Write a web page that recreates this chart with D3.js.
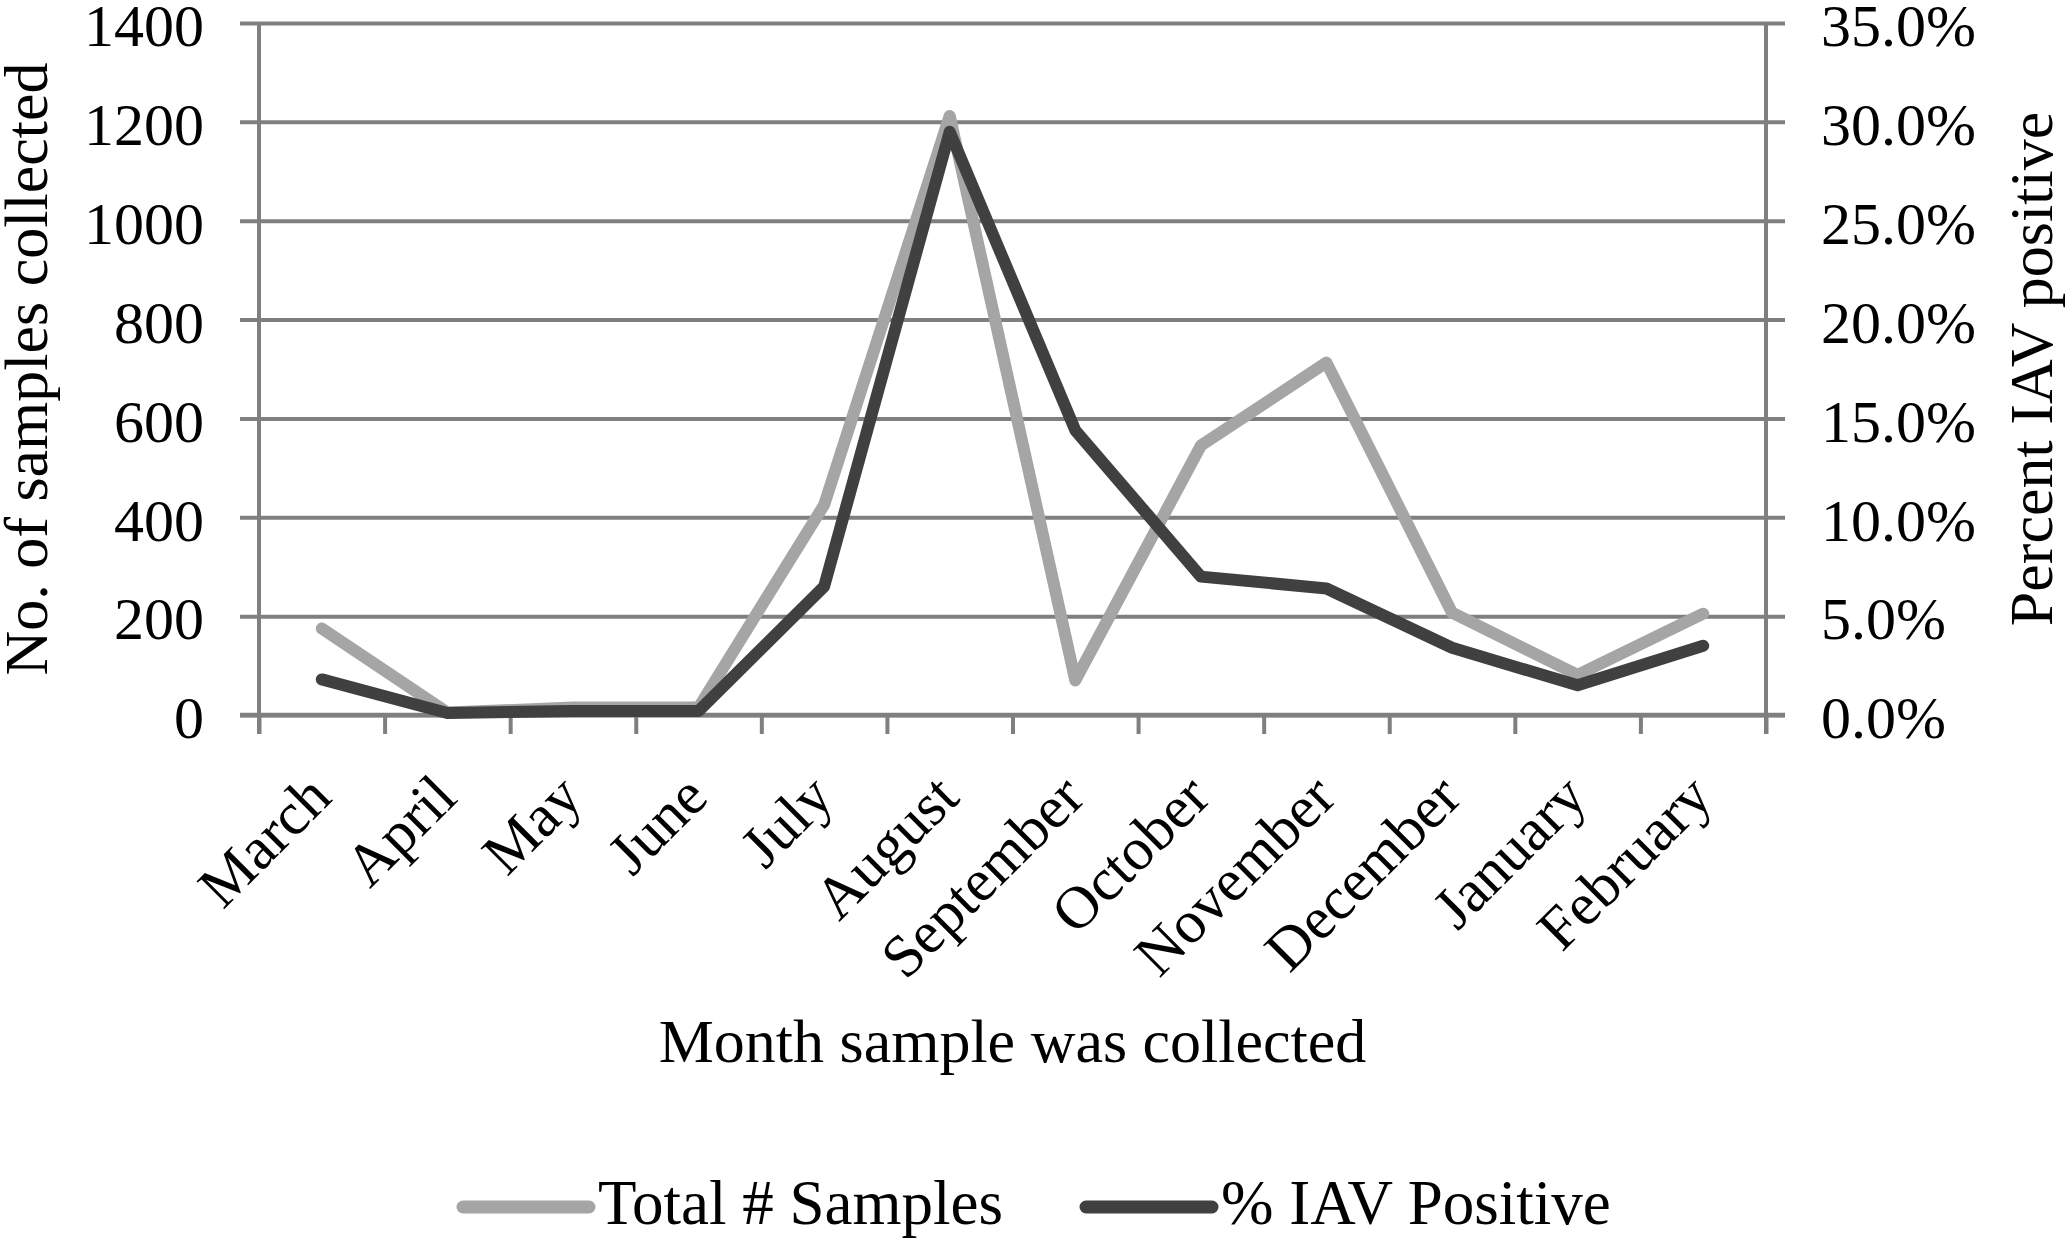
<!DOCTYPE html>
<html>
<head>
<meta charset="utf-8">
<script src="https://cdn.jsdelivr.net/npm/d3@7"></script>
<style>
  body { margin: 0; background: #fff; }
  text { font-family: "Liberation Serif", "Times New Roman", serif; fill: #000; }
</style>
</head>
<body>
<div id="chart"></div>
<script>

var months = ['March', 'April', 'May', 'June', 'July', 'August', 'September',
  'October', 'November', 'December', 'January', 'February'];

// Total # Samples (left axis)
var total_samples = [175, 5, 15, 15, 425, 1212, 70, 545, 713, 207, 81, 205];

// % IAV Positive (right axis, fraction)
var pct_positive = [0.018, 0.001, 0.002, 0.002, 0.065, 0.295, 0.144, 0.070, 0.064, 0.034, 0.015, 0.035];

var left_ticks  = [0, 200, 400, 600, 800, 1000, 1200, 1400];
var right_ticks = [0, 0.05, 0.10, 0.15, 0.20, 0.25, 0.30, 0.35];

var series_names = ['Total # Samples', '% IAV Positive'];


var chart_width  = 2070;
var chart_height = 1239;

var x_left   = 259;
var x_right  = 1766;
var y_top    = 23;
var y_bottom = 715;
var tick_len = 19;
var tick_font  = 60;
var title_font = 62;

var grid_color = '#7f7f7f';
var light      = '#a5a5a5';
var dark       = '#404040';
var serif      = '"Liberation Serif", "Times New Roman", serif';

var svg = d3.select('#chart')
  .append('svg')
  .attr('width', chart_width)
  .attr('height', chart_height);

var x_scale = d3.scaleBand()
  .domain(months)
  .range([x_left, x_right]);

// month boundaries for tick marks
var x_bounds = d3.scaleLinear()
  .domain([0, months.length])
  .range([x_left, x_right]);

var y_left = d3.scaleLinear()
  .domain([0, 1400])
  .range([y_bottom, y_top]);

var y_right = d3.scaleLinear()
  .domain([0, 0.35])
  .range([y_bottom, y_top]);

// gridlines, running through both tick sets
var grid = svg.append('g')
  .attr('class', 'grid')
  .attr('transform', 'translate(' + (x_left - tick_len) + ',0)')
  .call(d3.axisLeft(y_left)
    .tickValues(left_ticks)
    .tickSize(-(x_right - x_left + tick_len * 2))
    .tickFormat(''));
grid.select('.domain').remove();
grid.selectAll('line')
  .attr('stroke', grid_color)
  .attr('stroke-width', 4);

// left axis labels
var y_axis_l = svg.append('g')
  .attr('transform', 'translate(' + x_left + ',0)')
  .call(d3.axisLeft(y_left)
    .tickValues(left_ticks)
    .tickSize(0)
    .tickPadding(55)
    .tickFormat(d3.format('d')));
y_axis_l.select('.domain')
  .attr('stroke', grid_color)
  .attr('stroke-width', 4)
  .attr('d', 'M0,' + y_top + 'V' + (y_bottom + tick_len));
y_axis_l.selectAll('text')
  .attr('dy', '0.38em')
  .style('font-size', tick_font + 'px')
  .style('font-family', serif);

// right axis labels
var y_axis_r = svg.append('g')
  .attr('transform', 'translate(' + x_right + ',0)')
  .call(d3.axisRight(y_right)
    .tickValues(right_ticks)
    .tickSize(0)
    .tickPadding(55)
    .tickFormat(d3.format('.1%')));
y_axis_r.select('.domain')
  .attr('stroke', grid_color)
  .attr('stroke-width', 4)
  .attr('d', 'M0,' + y_top + 'V' + (y_bottom + tick_len));
y_axis_r.selectAll('text')
  .attr('dy', '0.38em')
  .style('font-size', tick_font + 'px')
  .style('font-family', serif);

// x tick marks between months
var x_ticks = svg.append('g')
  .attr('transform', 'translate(0,' + y_bottom + ')')
  .call(d3.axisBottom(x_bounds)
    .tickValues(d3.range(months.length + 1))
    .tickSize(tick_len)
    .tickFormat(''));
x_ticks.select('.domain')
  .attr('stroke', grid_color)
  .attr('stroke-width', 4.5)
  .attr('d', 'M' + (x_left - tick_len) + ',0H' + (x_right + tick_len));
x_ticks.selectAll('line')
  .attr('stroke', grid_color)
  .attr('stroke-width', 4);

// rotated month labels
var x_axis = svg.append('g')
  .attr('transform', 'translate(0,' + y_bottom + ')')
  .call(d3.axisBottom(x_scale).tickSize(0));
x_axis.select('.domain').remove();
x_axis.selectAll('text')
  .attr('x', -3)
  .attr('y', 70)
  .attr('dy', '0.35em')
  .attr('text-anchor', 'end')
  .attr('transform', 'rotate(-45,-3,70)')
  .style('font-size', tick_font + 'px')
  .style('font-family', serif);

// lines
var line_total = d3.line()
  .x(function(d, i) { return x_scale(months[i]) + x_scale.bandwidth() / 2; })
  .y(function(d) { return y_left(d); });

var line_pct = d3.line()
  .x(function(d, i) { return x_scale(months[i]) + x_scale.bandwidth() / 2; })
  .y(function(d) { return y_right(d); });

svg.append('path')
  .datum(total_samples)
  .attr('d', line_total)
  .attr('fill', 'none')
  .attr('stroke', light)
  .attr('stroke-width', 12)
  .attr('stroke-linejoin', 'round')
  .attr('stroke-linecap', 'round');

svg.append('path')
  .datum(pct_positive)
  .attr('d', line_pct)
  .attr('fill', 'none')
  .attr('stroke', dark)
  .attr('stroke-width', 12)
  .attr('stroke-linejoin', 'round')
  .attr('stroke-linecap', 'round');

// axis titles
svg.append('text')
  .attr('transform', 'translate(47,' + ((y_top + y_bottom) / 2) + ') rotate(-90)')
  .attr('text-anchor', 'middle')
  .style('font-size', title_font + 'px')
  .text('No. of samples collected');

svg.append('text')
  .attr('transform', 'translate(2052,' + ((y_top + y_bottom) / 2) + ') rotate(-90)')
  .attr('text-anchor', 'middle')
  .style('font-size', title_font + 'px')
  .text('Percent IAV positive');

svg.append('text')
  .attr('x', (x_left + x_right) / 2)
  .attr('y', 1062)
  .attr('text-anchor', 'middle')
  .style('font-size', title_font + 'px')
  .text('Month sample was collected');

// legend
var legend = svg.append('g');
var legend_x = [463, 1086];
var legend_col = [light, dark];

legend.selectAll('line')
  .data(series_names)
  .enter()
  .append('line')
  .attr('x1', function(d, i) { return legend_x[i]; })
  .attr('x2', function(d, i) { return legend_x[i] + 126; })
  .attr('y1', 1207)
  .attr('y2', 1207)
  .attr('stroke', function(d, i) { return legend_col[i]; })
  .attr('stroke-width', 13)
  .attr('stroke-linecap', 'round');

legend.selectAll('text')
  .data(series_names)
  .enter()
  .append('text')
  .attr('x', function(d, i) { return legend_x[i] + 135; })
  .attr('y', 1224)
  .style('font-size', (title_font + 1) + 'px')
  .text(function(d) { return d; });

</script>
</body>
</html>
